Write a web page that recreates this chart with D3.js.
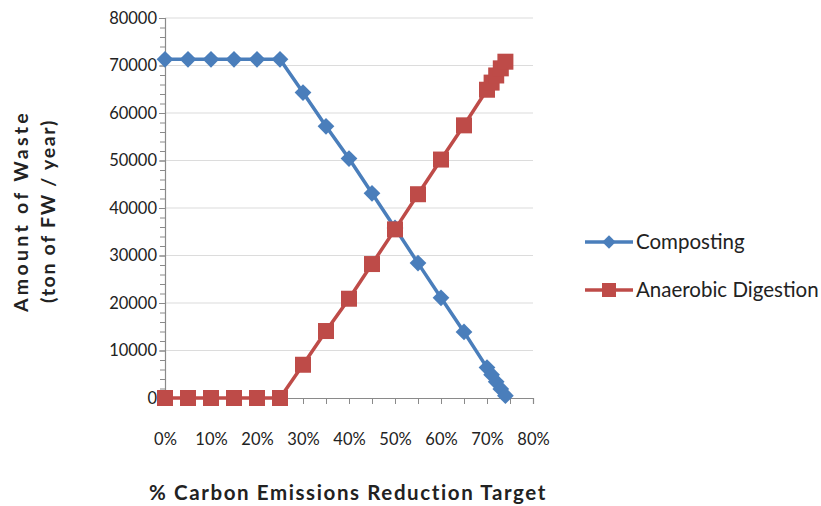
<!DOCTYPE html>
<html><head><meta charset="utf-8">
<script src="https://cdn.jsdelivr.net/npm/d3@7/dist/d3.min.js"></script>
<style>body{margin:0;background:#fff;} text{font-family:Lato,"Open Sans",sans-serif;fill:#222;}</style>
</head><body>
<svg id="c" width="821" height="506"></svg>
<script>
const targets = [0,0.05,0.10,0.15,0.20,0.25,0.30,0.35,0.40,0.45,0.50,0.55,0.60,0.65,0.70,0.71,0.72,0.73,0.74];
const composting = [71300,71300,71300,71300,71300,71300,64300,57200,50400,43100,35800,28400,21100,13900,6400,4900,3400,1900,500];
const anaerobic  = [0,0,0,0,0,0,7000,14100,20900,28200,35500,42900,50200,57400,64900,66400,67900,69400,70800];
const yTicks = [0,10000,20000,30000,40000,50000,60000,70000,80000];
const xTicks = [0,0.1,0.2,0.3,0.4,0.5,0.6,0.7,0.8];
const seriesNames = ["Composting","Anaerobic Digestion"];

const svg = d3.select("#c");
const x = d3.scaleLinear().domain([0,0.8]).range([165,533]);
const y = d3.scaleLinear().domain([0,80000]).range([398,18]);
const axisCol = "#8a8a8a", gridCol = "#dcdcdc";
const blue = "#4a7ebb", red = "#be4b48";

// gridlines
svg.append("g").selectAll("line").data(yTicks.filter(d=>d>0)).join("line")
  .attr("x1",x(0)).attr("x2",x(0.8)).attr("y1",d=>y(d)).attr("y2",d=>y(d))
  .attr("stroke",gridCol).attr("stroke-width",1.2);

// y axis
const yAxis = d3.axisLeft(y).tickValues(yTicks).tickSize(6).tickFormat(d3.format("d"));
const gy = svg.append("g").attr("transform",`translate(${x(0)},0)`).call(yAxis);
gy.select(".domain").attr("stroke",axisCol).attr("stroke-width",1.2);
gy.selectAll(".tick line").attr("stroke",axisCol);
gy.selectAll(".tick text").attr("font-size",16.5).attr("x",-8).attr("fill","#222")
  .style("font-family","Lato");
const gym = svg.append("g").attr("transform",`translate(${x(0)},0)`)
  .call(d3.axisLeft(y).tickValues(d3.range(0,80001,2000)).tickSize(5).tickFormat(""));
gym.select(".domain").remove();
gym.selectAll(".tick line").attr("stroke",axisCol);

// x axis
const gx = svg.append("g").attr("transform",`translate(0,${y(0)})`)
  .call(d3.axisBottom(x).tickValues(xTicks).tickSize(6).tickFormat(d3.format(".0%")).tickPadding(29));
gx.select(".domain").attr("stroke",axisCol).attr("stroke-width",1.2);
gx.selectAll(".tick line").attr("stroke",axisCol);
gx.selectAll(".tick text").attr("font-size",16.5).attr("fill","#222").style("font-family","Lato");
const gxm = svg.append("g").attr("transform",`translate(0,${y(0)})`)
  .call(d3.axisBottom(x).tickValues(d3.range(0.05,0.8,0.1)).tickSize(6).tickFormat(""));
gxm.select(".domain").remove();
gxm.selectAll(".tick line").attr("stroke",axisCol);

// lines
const line = d3.line().x((d,i)=>x(targets[i])).y(d=>y(d));
svg.append("path").datum(composting).attr("d",line).attr("fill","none").attr("stroke",blue).attr("stroke-width",3.5);
svg.append("path").datum(anaerobic).attr("d",line).attr("fill","none").attr("stroke",red).attr("stroke-width",3.5);

const diamond = d3.symbol().type(d3.symbolSquare).size(140);
svg.append("g").selectAll("path").data(composting).join("path")
  .attr("d",diamond).attr("transform",(d,i)=>`translate(${x(targets[i])},${y(d)}) rotate(45)`)
  .attr("fill",blue);
svg.append("g").selectAll("rect").data(anaerobic).join("rect")
  .attr("x",(d,i)=>x(targets[i])-8).attr("y",d=>y(d)-8).attr("width",16).attr("height",16)
  .attr("fill",red);

// axis titles
svg.append("text").attr("transform","translate(28,211) rotate(-90)").attr("text-anchor","middle")
  .attr("font-size",19.5).attr("font-weight","bold").attr("letter-spacing",3.3).text("Amount of  Waste");
svg.append("text").attr("transform","translate(55,211) rotate(-90)").attr("text-anchor","middle")
  .attr("font-size",19.5).attr("font-weight","bold").attr("letter-spacing",1.7).text("(ton of FW / year)");
svg.append("text").attr("x",348).attr("y",500).attr("text-anchor","middle")
  .attr("font-size",20.5).attr("font-weight","bold").attr("letter-spacing",1.6).text("% Carbon Emissions Reduction Target");

// legend
const leg = svg.append("g");
const legY = [242,290], cols=[blue,red];
seriesNames.forEach((n,i)=>{
  leg.append("line").attr("x1",585).attr("x2",633).attr("y1",legY[i]).attr("y2",legY[i]).attr("stroke",cols[i]).attr("stroke-width",3.5);
  if(i===0) leg.append("path").attr("d",d3.symbol().type(d3.symbolSquare).size(90)).attr("transform",`translate(609,${legY[i]}) rotate(45)`).attr("fill",blue);
  else leg.append("rect").attr("x",602).attr("y",legY[i]-7).attr("width",14).attr("height",14).attr("fill",red);
  leg.append("text").attr("x",636).attr("y",legY[i]).attr("dy","0.35em").attr("font-size",20.5).text(n);
});
</script>
</body></html>
